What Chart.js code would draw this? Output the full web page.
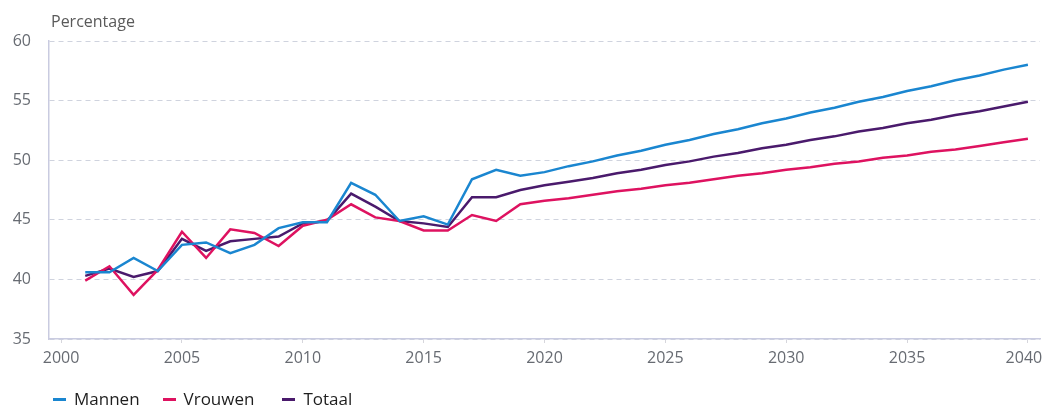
<!DOCTYPE html>
<html>
<head>
<meta charset="utf-8">
<script src="https://cdn.jsdelivr.net/npm/chart.js@4.4.1/dist/chart.umd.min.js"></script>
<style>
  html, body { margin: 0; padding: 0; background: #fff; }
  #wrap { position: relative; width: 1044px; height: 407px; }
  #legend { position: absolute; left: 53px; top: 388px; display: flex; align-items: center;
            font-family: "Open Sans", sans-serif; font-size: 17px; color: #1e1e1e; line-height: 22px; }
  #legend .item { display: flex; align-items: center; }
  #legend .mark { display: inline-block; width: 13px; height: 3px; margin-right: 8px; }
</style>
</head>
<body>
<div id="wrap">
  <canvas id="chart" width="1044" height="407"></canvas>
  <div id="legend"></div>
</div>
<script>
// jaren en waarden
const years = [2001, 2002, 2003, 2004, 2005, 2006, 2007, 2008, 2009, 2010,
  2011, 2012, 2013, 2014, 2015, 2016, 2017, 2018, 2019, 2020,
  2021, 2022, 2023, 2024, 2025, 2026, 2027, 2028, 2029, 2030,
  2031, 2032, 2033, 2034, 2035, 2036, 2037, 2038, 2039, 2040];

const mannen = [40.6, 40.6, 41.8, 40.7, 42.9, 43.1, 42.2, 42.9, 44.3, 44.8,
  44.8, 48.1, 47.1, 44.9, 45.3, 44.6, 48.4, 49.2, 48.7, 49.0,
  49.5, 49.9, 50.4, 50.8, 51.3, 51.7, 52.2, 52.6, 53.1, 53.5,
  54.0, 54.4, 54.9, 55.3, 55.8, 56.2, 56.7, 57.1, 57.6, 58.0];

const vrouwen = [39.9, 41.1, 38.7, 40.8, 44.0, 41.8, 44.2, 43.9, 42.8, 44.5,
  45.0, 46.3, 45.2, 44.9, 44.1, 44.1, 45.4, 44.9, 46.3, 46.6,
  46.8, 47.1, 47.4, 47.6, 47.9, 48.1, 48.4, 48.7, 48.9, 49.2,
  49.4, 49.7, 49.9, 50.2, 50.4, 50.7, 50.9, 51.2, 51.5, 51.8];

const totaal = [40.3, 40.9, 40.2, 40.7, 43.4, 42.4, 43.2, 43.4, 43.6, 44.7,
  44.9, 47.2, 46.1, 44.9, 44.7, 44.4, 46.9, 46.9, 47.5, 47.9,
  48.2, 48.5, 48.9, 49.2, 49.6, 49.9, 50.3, 50.6, 51.0, 51.3,
  51.7, 52.0, 52.4, 52.7, 53.1, 53.4, 53.8, 54.1, 54.5, 54.9];

const xTicks = [2000, 2005, 2010, 2015, 2020, 2025, 2030, 2035, 2040];
const yTicks = [35, 40, 45, 50, 55, 60];

const series = [
  { label: 'Mannen', values: mannen, color: '#1a86d0' },
  { label: 'Vrouwen', values: vrouwen, color: '#de1260' },
  { label: 'Totaal', values: totaal, color: '#4a1a6c' }
];

const font = '"Open Sans", sans-serif';

// "Percentage" boven de y-as
const yTitle = {
  id: 'yTitle',
  afterDraw(chart) {
    const ctx = chart.ctx;
    ctx.save();
    ctx.font = '16px ' + font;
    ctx.fillStyle = '#5a5a5a';
    ctx.textBaseline = 'middle';
    ctx.fillText('Percentage', chart.chartArea.left + 2, 22);
    ctx.restore();
  }
};

new Chart(document.getElementById('chart'), {
  type: 'line',
  data: {
    datasets: series.map(s => ({
      label: s.label,
      data: years.map((y, i) => ({ x: y, y: s.values[i] })),
      borderColor: s.color,
      backgroundColor: s.color,
      borderWidth: 2.5,
      pointRadius: 0,
      tension: 0
    }))
  },
  options: {
    responsive: false,
    animation: false,
    layout: { padding: { top: 41, right: 4, bottom: 28, left: 0 } },
    plugins: {
      legend: { display: false },
      tooltip: { enabled: false }
    },
    scales: {
      x: {
        type: 'linear',
        min: 1999.5,
        max: 2040.5,
        afterBuildTicks: s => { s.ticks = xTicks.map(v => ({ value: v })); },
        afterFit: s => { s.height = 40; s.paddingLeft = 0; s.paddingRight = 0; },
        grid: { drawOnChartArea: false, drawTicks: true, tickLength: 4, color: '#d6d6dc' },
        border: { color: '#c9cbe0', width: 1.5 },
        // laatste label iets naar links zodat het binnen beeld valt
        ticks: { color: '#676b72', font: { family: font, size: 16 }, padding: 6,
                 callback: (v, i, t) => i === t.length - 1 ? v + '\u2002' : String(v) }
      },
      y: {
        min: 35,
        max: 60,
        afterBuildTicks: s => { s.ticks = yTicks.map(v => ({ value: v })); },
        afterFit: s => { s.width = 49; },
        grid: { drawTicks: false, color: '#cfd3de', lineWidth: 1 },
        border: { color: '#c9cbe0', width: 1.5, dash: [5, 4] },
        ticks: { color: '#676b72', font: { family: font, size: 16 }, padding: 18 }
      }
    }
  },
  plugins: [yTitle]
});

// legenda onder de grafiek
const legend = document.getElementById('legend');
const gaps = [0, 23, 28];
series.forEach((s, i) => {
  const item = document.createElement('span');
  item.className = 'item';
  item.style.marginLeft = gaps[i] + 'px';
  item.innerHTML = '<span class="mark" style="background:' + s.color + '"></span>' + s.label;
  legend.appendChild(item);
});
</script>
</body>
</html>
